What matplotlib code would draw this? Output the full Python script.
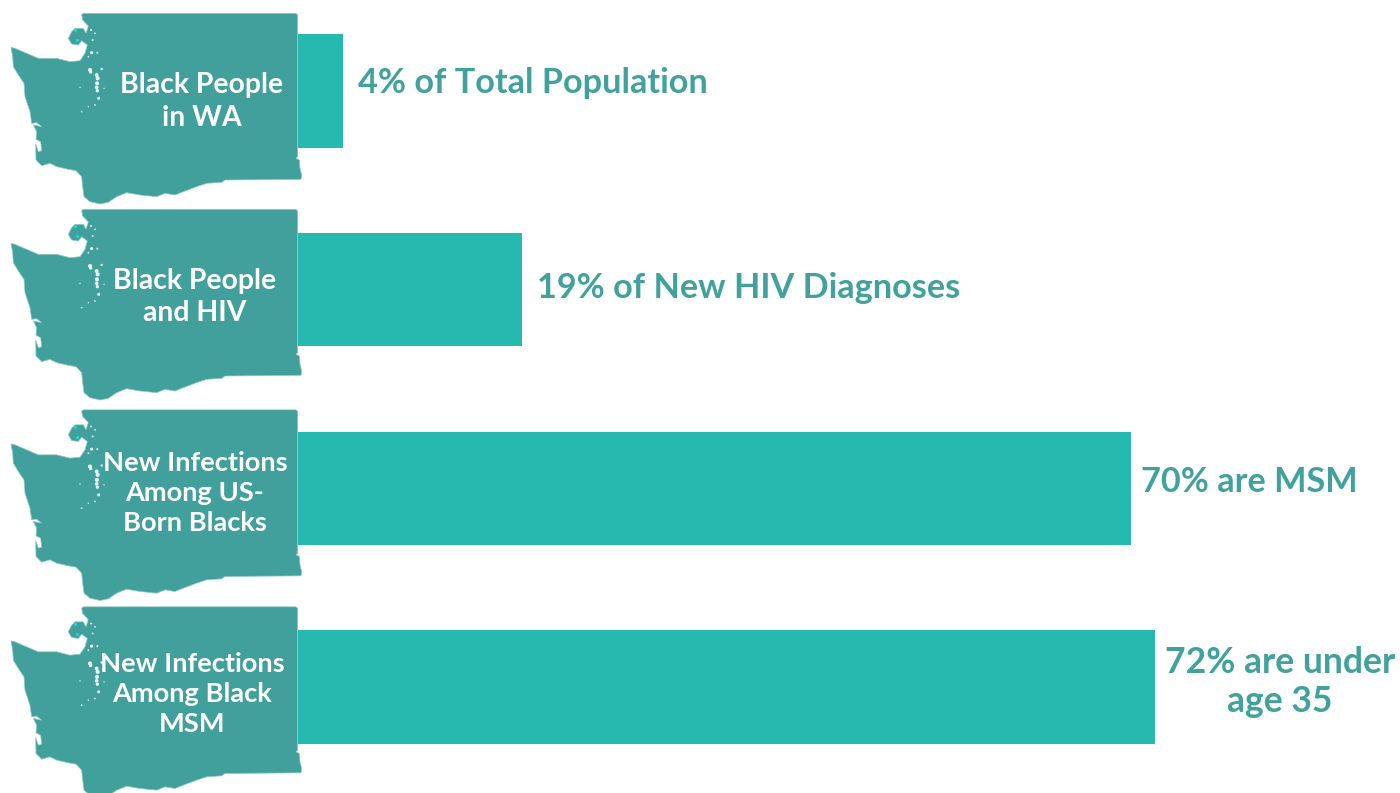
import numpy as np
import matplotlib
matplotlib.use("Agg")
import matplotlib.pyplot as plt
from matplotlib.patches import Polygon

categories = ["Black People\nin WA", "Black People\nand HIV",
              "New Infections\nAmong US-\nBorn Blacks", "New Infections\nAmong Black\nMSM"]
bar_values = [3.8, 18.8, 70, 72]
bar_labels = ["4% of Total Population", "19% of New HIV Diagnoses",
              "70% are MSM", "72% are under\nage 35"]

W, H = 1400, 793
TEAL_BAR = "#26b9b0"
TEAL_MAP = "#41a09b"
TEAL_TEXT = "#41a29d"
FONT = "Lato"

# state outline, 3x zoom pixels
outline = [(245,44),(250,40),(888,40),(893,45),(893,470),(888,475),(898,480),(900,505),(905,525),(903,538),
           (675,540),(665,547),(620,550),(590,560),(550,575),(525,585),(495,580),(470,590),(420,585),(380,578),
           (350,590),(325,607),(300,612),(270,605),(252,590),(248,560),(245,530),(228,512),(205,508),(170,500),
           (150,490),(125,497),(108,480),(107,432),(115,455),(125,452),(122,425),(108,418),(110,395),(100,375),
           (125,380),(110,368),(95,370),(90,335),(75,290),(72,250),(55,225),(40,200),(38,170),(33,142),
           (45,145),(80,160),(115,175),(170,175),(210,185),(240,182),(255,160),(262,135),(245,122),(235,135),
           (215,132),(205,115),(215,95),(225,85),(250,85),(258,100),(265,78),(248,60)]
# puget sound specks: x, y, size
specks = [(270,210,9),(272,216,6),(290,225,8),(293,235,9),(291,250,9),(290,262,7),(292,272,6),(296,295,5),
          (305,207,3),(275,158,5),(292,158,2),(273,90,2),(278,120,2),(285,100,1.5),(265,170,1.5),
          (285,315,1.5),(245,335,1.5),(240,262,1),(265,320,1),(312,265,1)]
islands = [(224,90),(232,120)]

map_tops = [0.0, 196.0, 396.5, 593.5]
map_text_pos = [(202, 101.5), (195, 297), (195, 493), (192, 693.5)]
map_text_size = [20.4, 20.4, 19.6, 19.6]
label_offsets = [15, 15, 10, 10]
label_y_shift = [-8, -2, -6, -5]
label_size = [24.7, 24.7, 24.7, 25.6]

fig = plt.figure(figsize=(W / 100, H / 100), dpi=100)

# bar axes, x starts where the maps end
ax = fig.add_axes([298 / W, 0, (W - 298) / W, 1])
ax.set_xlim(0, (W - 298) / 11.9)
ax.set_ylim((H - 91) / 198.67, -91 / 198.67)
ax.axis("off")
ys = np.arange(len(bar_values))
ax.barh(ys, bar_values, height=0.571, color=TEAL_BAR, linewidth=0)

for i in ys:
    ha = "center" if "\n" in bar_labels[i] else "left"
    xoff = 125 if "\n" in bar_labels[i] else label_offsets[i]
    ax.annotate(bar_labels[i], (bar_values[i], i), xytext=(xoff * 0.72, label_y_shift[i] * -0.72),
                textcoords="offset points", ha=ha, va="center", color=TEAL_TEXT,
                fontsize=label_size[i], fontweight="bold", family=FONT, linespacing=1.25, annotation_clip=False)

# maps on top, pixel coordinates
bg = fig.add_axes([0, 0, 1, 1])
bg.set_xlim(0, W)
bg.set_ylim(H, 0)
bg.axis("off")
bg.patch.set_alpha(0)

pts = np.array(outline) / 3
sp = np.array(specks, dtype=float)
isl = np.array(islands) / 3
for i, top in enumerate(map_tops):
    bg.add_patch(Polygon(pts + [0, top], closed=True, facecolor=TEAL_MAP, edgecolor="#8fcac6", linewidth=0.5))
    bg.scatter(sp[:, 0] / 3, sp[:, 1] / 3 + top, s=sp[:, 2], color="#e8f5f4", linewidths=0)
    bg.scatter(isl[:, 0], isl[:, 1] + top, s=5, color="#25d5d5", linewidths=0)
    bg.text(map_text_pos[i][0], map_text_pos[i][1], categories[i], color="white", ha="center", va="center",
            fontsize=map_text_size[i], fontweight="bold", family=FONT, linespacing=1.3)

fig.savefig("out.png", dpi=100)
